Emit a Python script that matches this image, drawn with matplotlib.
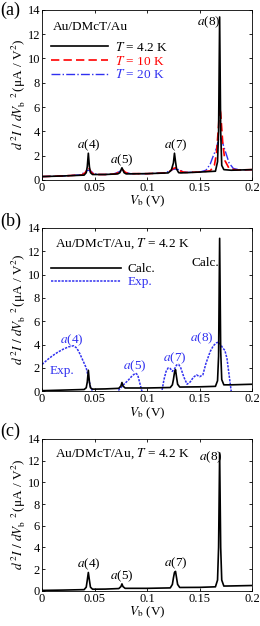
import numpy as np
import matplotlib
matplotlib.use("Agg")
import matplotlib.pyplot as plt

plt.rcParams['font.family'] = ['Liberation Serif', 'DejaVu Serif']
plt.rcParams['mathtext.fontset'] = 'stix'
plt.rcParams['font.size'] = 9

# ---- panel (a): calculated d2I/dV2 at three temperatures ----
xa_4k = [0, 0.02, 0.04, 0.042, 0.043, 0.044, 0.045, 0.046, 0.048, 0.06, 0.072, 0.074,
         0.075, 0.076, 0.077, 0.078, 0.080, 0.10, 0.12, 0.123, 0.125, 0.126, 0.127,
         0.128, 0.130, 0.132, 0.15, 0.165, 0.167, 0.168, 0.169, 0.170, 0.171, 0.173,
         0.18, 0.2]
ya_4k = [0.28, 0.33, 0.40, 0.60, 1.10, 2.20, 1.10, 0.60, 0.45, 0.45, 0.50, 0.60,
         0.80, 1.00, 0.80, 0.60, 0.50, 0.52, 0.58, 0.80, 1.40, 2.20, 1.50,
         0.90, 0.60, 0.58, 0.65, 0.72, 1.50, 4.00, 13.4, 4.00, 1.20, 0.85,
         0.80, 0.85]

xa_10k = [0, 0.02, 0.038, 0.041, 0.043, 0.044, 0.045, 0.047, 0.050, 0.06, 0.070, 0.073,
          0.076, 0.079, 0.082, 0.10, 0.118, 0.122, 0.125, 0.127, 0.129, 0.132, 0.136,
          0.15, 0.160, 0.164, 0.166, 0.168, 0.169, 0.170, 0.172, 0.174, 0.178, 0.185, 0.2]
ya_10k = [0.28, 0.33, 0.42, 0.60, 0.90, 1.00, 0.90, 0.60, 0.45, 0.45, 0.50, 0.65,
          0.90, 0.65, 0.52, 0.52, 0.58, 0.75, 0.95, 1.00, 0.95, 0.72, 0.62,
          0.65, 0.75, 1.20, 2.20, 4.50, 6.00, 5.50, 3.00, 1.60, 0.95, 0.82, 0.85]

xa_20k = [0, 0.02, 0.036, 0.040, 0.043, 0.044, 0.046, 0.049, 0.053, 0.06, 0.068, 0.072,
          0.076, 0.080, 0.084, 0.10, 0.116, 0.121, 0.125, 0.127, 0.130, 0.134, 0.138,
          0.15, 0.156, 0.160, 0.163, 0.166, 0.168, 0.170, 0.172, 0.175, 0.178, 0.182,
          0.188, 0.2]
ya_20k = [0.28, 0.33, 0.42, 0.60, 0.78, 0.80, 0.75, 0.55, 0.45, 0.45, 0.50, 0.62,
          0.80, 0.62, 0.52, 0.52, 0.58, 0.72, 0.88, 0.90, 0.85, 0.70, 0.62,
          0.65, 0.80, 1.30, 2.00, 2.60, 3.40, 3.50, 3.00, 2.20, 1.40, 0.95,
          0.83, 0.85]

# ---- panel (b): calculated vs experiment ----
xb_calc = [0, 0.02, 0.040, 0.042, 0.043, 0.044, 0.045, 0.046, 0.048, 0.06, 0.073, 0.075,
           0.076, 0.077, 0.079, 0.10, 0.122, 0.124, 0.125, 0.126, 0.127, 0.128, 0.129,
           0.131, 0.15, 0.165, 0.167, 0.168, 0.169, 0.170, 0.171, 0.173, 0.18, 0.2]
yb_calc = [0.05, 0.10, 0.15, 0.30, 0.80, 1.80, 0.80, 0.30, 0.18, 0.20, 0.25, 0.45,
           0.75, 0.45, 0.28, 0.28, 0.32, 0.55, 1.00, 1.60, 1.85, 1.20, 0.60,
           0.36, 0.38, 0.42, 0.90, 3.00, 13.1, 3.50, 1.00, 0.55, 0.55, 0.60]

xb_exp = [0, 0.005, 0.010, 0.015, 0.020, 0.025, 0.030, 0.033, 0.036, 0.039, 0.042,
          0.044, 0.046, 0.048, 0.052, 0.060, 0.068, 0.072, 0.075, 0.078, 0.082,
          0.086, 0.089, 0.091, 0.093, 0.095, 0.100, 0.108, 0.114, 0.116, 0.118, 0.120,
          0.122, 0.124, 0.126, 0.128, 0.130, 0.132, 0.135, 0.138, 0.141, 0.144, 0.147,
          0.150, 0.153, 0.156, 0.160, 0.163, 0.166, 0.168, 0.170, 0.172, 0.174, 0.176,
          0.178, 0.180, 0.185]
yb_exp = [2.30, 2.70, 3.05, 3.35, 3.60, 3.80, 3.90, 3.70, 3.20, 2.60, 2.00,
          1.20, 0.40, 0.00, -0.5, -0.5, -0.5, 0.00, 0.30, 0.60, 0.95,
          1.35, 1.55, 1.40, 0.70, 0.00, -0.5, -0.5, 0.00, 1.00, 1.70, 2.00,
          1.95, 1.70, 1.90, 2.25, 2.30, 2.00, 1.20, 0.60, 0.80, 1.20, 1.40,
          1.25, 1.40, 2.40, 3.40, 3.90, 4.15, 4.20, 4.00, 3.70, 3.50, 2.80,
          1.40, 0.00, -0.5]

# ---- panel (c): calculated, T = 4.2 K ----
xc_calc = [0, 0.02, 0.040, 0.042, 0.043, 0.044, 0.045, 0.046, 0.048, 0.06, 0.073, 0.075,
           0.076, 0.077, 0.079, 0.10, 0.122, 0.124, 0.125, 0.126, 0.127, 0.128, 0.129,
           0.131, 0.15, 0.165, 0.167, 0.168, 0.169, 0.170, 0.171, 0.173, 0.18, 0.2]
yc_calc = [0.05, 0.08, 0.12, 0.35, 1.00, 1.70, 1.00, 0.35, 0.16, 0.17, 0.22, 0.40,
           0.65, 0.40, 0.24, 0.24, 0.28, 0.60, 1.20, 1.70, 1.80, 1.20, 0.60,
           0.32, 0.33, 0.38, 1.00, 4.00, 12.7, 4.00, 1.00, 0.45, 0.46, 0.50]

xticks = [0, 0.05, 0.1, 0.15, 0.2]
xticklabels = ['0', '0.05', '0.1', '0.15', '0.2']
yticks = [0, 2, 4, 6, 8, 10, 12, 14]

blue = '#3030f0'
ylab = r'$d^{\,2}I\ /\ dV_{\rm b}^{\ \ \ 2}\,$(μA / V$^2$)'
fs = 9.5

fig = plt.figure(figsize=(2.6, 6.26), dpi=100)
boxes = [[0.162, 0.7125, 0.808, 0.272],
         [0.162, 0.375, 0.808, 0.261],
         [0.162, 0.056, 0.808, 0.243]]
axs = [fig.add_axes(b) for b in boxes]

for ax in axs:
    ax.set_xlim(0, 0.2)
    ax.set_ylim(0, 14)
    ax.set_xticks(xticks)
    ax.set_xticklabels(xticklabels)
    ax.set_yticks(yticks)
    ax.tick_params(direction='in', top=True, right=True, length=2.5, width=0.6,
                   labelsize=9, pad=1.5)
    for s in ax.spines.values():
        s.set_linewidth(0.6)
    ax.set_ylabel(ylab, fontsize=9.5, labelpad=0)
    ax.set_xlabel(r'$V_{\rm b}$ (V)', fontsize=9.5, labelpad=0)

# (a)
ax = axs[0]
ax.plot(xa_20k, ya_20k, color=blue, lw=1.0, ls='-.', label=r'$T$ = 20 K')
ax.plot(xa_10k, ya_10k, color='red', lw=1.2, ls=(0, (5, 2.5)), label=r'$T$ = 10 K')
ax.plot(xa_4k, ya_4k, color='black', lw=1.2, label=r'$T$ = 4.2 K')
h, l = ax.get_legend_handles_labels()
leg = ax.legend(h[::-1], l[::-1], loc='upper left', bbox_to_anchor=(0.0, 0.87),
                frameon=False, fontsize=fs, handlelength=4.3, handletextpad=0.5,
                labelspacing=0.05, borderaxespad=0.3)
for t, c in zip(leg.get_texts(), ['black', 'red', blue]):
    t.set_color(c)
ax.text(0.05, 0.9, 'Au/DMcT/Au', transform=ax.transAxes, fontsize=fs, va='center')
ax.text(0.044, 2.6, r'$a$(4)', ha='center', fontsize=fs)
ax.text(0.076, 1.4, r'$a$(5)', ha='center', fontsize=fs)
ax.text(0.127, 2.6, r'$a$(7)', ha='center', fontsize=fs)
ax.text(0.159, 12.7, r'$a$(8)', ha='center', fontsize=fs)

# (b)
ax = axs[1]
ax.plot(xb_exp, yb_exp, color=blue, lw=1.1, ls=(0, (1.5, 0.8)), label='Exp.')
ax.plot(xb_calc, yb_calc, color='black', lw=1.2, label='Calc.')
h, l = ax.get_legend_handles_labels()
leg = ax.legend(h[::-1], l[::-1], loc='upper left', bbox_to_anchor=(0.0, 0.84),
                frameon=False, fontsize=fs, handlelength=5.3, handletextpad=0.5,
                labelspacing=0.05, borderaxespad=0.3)
for t, c in zip(leg.get_texts(), ['black', blue]):
    t.set_color(c)
ax.text(0.06, 0.9, r'Au/DMcT/Au, $T$ = 4.2 K', transform=ax.transAxes, fontsize=fs,
        va='center')
ax.text(0.155, 10.7, 'Calc.', ha='center', fontsize=fs)
ax.text(0.028, 4.1, r'$a$(4)', ha='center', fontsize=fs, color=blue)
ax.text(0.019, 1.5, 'Exp.', ha='center', fontsize=fs, color=blue)
ax.text(0.088, 1.9, r'$a$(5)', ha='center', fontsize=fs, color=blue)
ax.text(0.126, 2.6, r'$a$(7)', ha='center', fontsize=fs, color=blue)
ax.text(0.152, 4.3, r'$a$(8)', ha='center', fontsize=fs, color=blue)

# (c)
ax = axs[2]
ax.plot(xc_calc, yc_calc, color='black', lw=1.2)
ax.text(0.06, 0.9, r'Au/DMcT/Au, $T$ = 4.2 K', transform=ax.transAxes, fontsize=fs,
        va='center')
ax.text(0.044, 2.2, r'$a$(4)', ha='center', fontsize=fs)
ax.text(0.076, 1.1, r'$a$(5)', ha='center', fontsize=fs)
ax.text(0.127, 2.3, r'$a$(7)', ha='center', fontsize=fs)
ax.text(0.161, 12.0, r'$a$(8)', ha='center', fontsize=fs)

for y, lab in zip([0.997, 0.66, 0.324], ['(a)', '(b)', '(c)']):
    fig.text(0.0, y, lab, fontsize=13, va='top', ha='left')

fig.savefig('out.png', dpi=100)
